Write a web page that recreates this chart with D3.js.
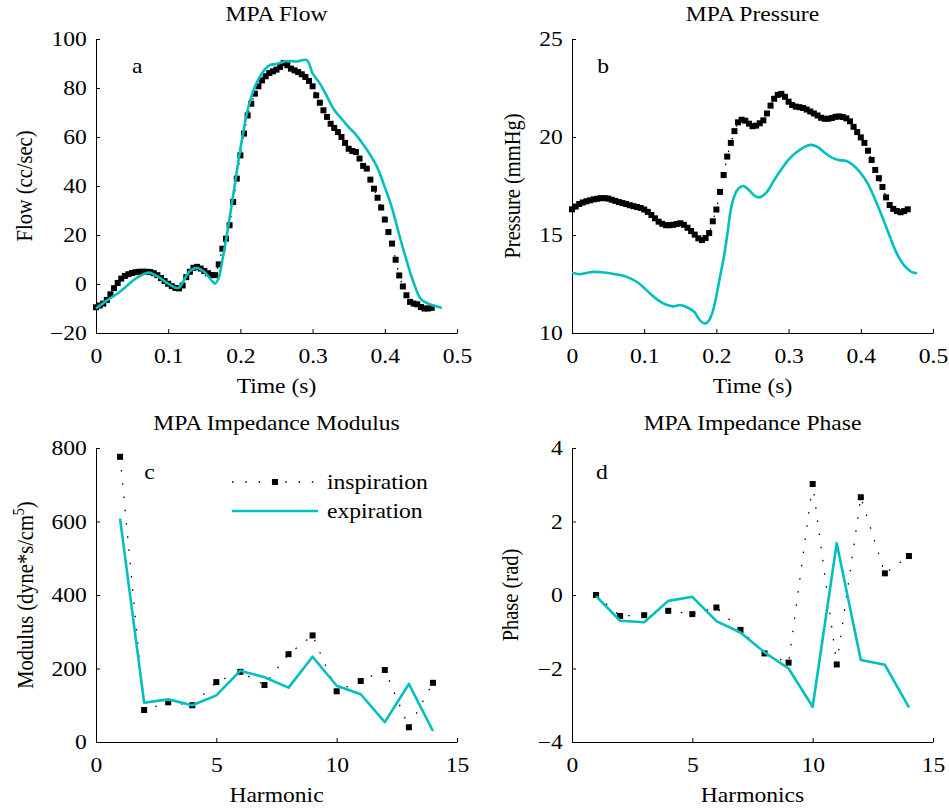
<!DOCTYPE html>
<html>
<head>
<meta charset="utf-8">
<script src="https://cdn.jsdelivr.net/npm/d3@7"></script>
<style>
  body { margin: 0; background: #fff; }
  text { font-family: "Liberation Serif", "Times New Roman", serif; fill: #000; }
  .axis path, .axis line { stroke: #000; stroke-width: 1; }
</style>
</head>
<body>
<svg id="fig" width="949" height="812"></svg>
<script>
// sampling interval of the inspiration waveforms (s)
const dt = 0.005;

// panel a: MPA flow (cc/sec)
const flowInsp = [
  -9.5, -8.8, -8.0, -6.5, -4.2, -1.7, 0.4, 2.2, 3.3, 4.0,
  4.5, 4.8, 5.0, 5.0, 5.0, 4.9, 4.4, 3.6, 2.4, 1.2,
  0.1, -0.9, -1.6, -1.8, -0.6, 2.8, 5.0, 6.6, 7.0, 6.3,
  5.3, 4.4, 3.7, 3.6, 8.0, 14.4, 18.5, 24, 33.5, 43,
  52.5, 61.4, 68.8, 73.6, 77.7, 80.7, 83.1, 84.8, 86.1, 86.8,
  87.5, 88.6, 90.2, 89.3, 87.9, 87.2, 86.5, 85.6, 84.5, 82.9,
  80.7, 77, 74, 70.9, 68.2, 65.4, 63.7, 62, 60, 57.6,
  55.2, 54.3, 53.9, 51.2, 48.2, 47.1, 42.6, 38.9, 35.2, 31.2,
  26.3, 21.2, 16.5, 9.9, 3.5, -1, -4.6, -7.3, -8, -8.3,
  -9.4, -10, -10, -9.7
];
const flowExpT = [0, 0.01, 0.02, 0.03, 0.04, 0.05, 0.06, 0.07, 0.075, 0.08, 0.09, 0.1, 0.11, 0.115, 0.12,
  0.13, 0.14, 0.15, 0.16, 0.165, 0.17, 0.175, 0.18, 0.19, 0.2, 0.21, 0.22, 0.227, 0.235, 0.241, 0.25,
  0.264, 0.278, 0.292, 0.3, 0.31, 0.32, 0.33, 0.34, 0.35, 0.36, 0.37, 0.38, 0.39, 0.4, 0.41, 0.42,
  0.43, 0.44, 0.45, 0.46, 0.47, 0.479];
const flowExp = [-10, -7.8, -5.7, -3.9, -1.5, 1.1, 3.1, 4.5, 4.6, 3.9, 2.2, 0.1, -1.5, -1.5, 0.6,
  5.3, 6.5, 4.9, 1.5, 0.2, 2.5, 9.7, 17.8, 36.2, 55.2, 70.9, 80.4, 84.6, 88.0, 89.4, 89.8,
  91.0, 90.8, 91.4, 86.0, 81.9, 76.5, 71.0, 67.5, 64.0, 61.0, 57.0, 52.6, 47.3, 39.5, 31.0, 20.0,
  9.8, 0.5, -6.2, -8.0, -9.0, -9.8];

// panel b: MPA pressure (mmHg)
const pressInsp = [
  16.31, 16.45, 16.58, 16.66, 16.72, 16.77, 16.82, 16.85, 16.88, 16.88,
  16.86, 16.80, 16.74, 16.68, 16.63, 16.58, 16.52, 16.47, 16.43, 16.38,
  16.30, 16.18, 16.02, 15.85, 15.68, 15.57, 15.50, 15.50, 15.52, 15.56,
  15.60, 15.52, 15.37, 15.20, 15.02, 14.83, 14.74, 14.85, 15.10, 15.70,
  16.30, 17.20, 18.06, 19.00, 19.70, 20.30, 20.75, 20.88, 20.83, 20.68,
  20.55, 20.58, 20.70, 20.85, 21.20, 21.60, 21.95, 22.15, 22.20, 22.05,
  21.80, 21.63, 21.55, 21.52, 21.48, 21.40, 21.30, 21.20, 21.10, 20.98,
  20.93, 20.93, 20.97, 21.03, 21.05, 21.02, 20.95, 20.80, 20.52, 20.25,
  19.98, 19.70, 19.30, 18.83, 18.32, 17.90, 17.45, 16.92, 16.53, 16.33,
  16.22, 16.16, 16.22, 16.31
];
const pressExpT = [0, 0.01, 0.02, 0.03, 0.04, 0.05, 0.06, 0.07, 0.08, 0.09, 0.1, 0.11, 0.12, 0.13, 0.14,
  0.15, 0.16, 0.17, 0.175, 0.18, 0.185, 0.19, 0.195, 0.2, 0.205, 0.21, 0.215, 0.22, 0.225, 0.23, 0.237,
  0.245, 0.253, 0.26, 0.27, 0.28, 0.29, 0.3, 0.31, 0.32, 0.33, 0.34, 0.35, 0.36, 0.37, 0.38, 0.39,
  0.4, 0.41, 0.42, 0.43, 0.44, 0.45, 0.46, 0.47, 0.478];
const pressExp = [13.08, 13.0, 13.06, 13.12, 13.1, 13.06, 13.0, 12.93, 12.8, 12.6, 12.3, 11.95, 11.65, 11.45, 11.36,
  11.43, 11.3, 11.05, 10.75, 10.55, 10.49, 10.65, 11.1, 11.9, 12.87, 13.8, 15.0, 16.3, 17.0, 17.35, 17.5,
  17.3, 17.0, 16.92, 17.2, 17.8, 18.35, 18.85, 19.2, 19.45, 19.6, 19.5, 19.2, 18.95, 18.82, 18.78, 18.55,
  18.15, 17.6, 16.8, 15.9, 14.95, 14.05, 13.45, 13.12, 13.05];

// panels c, d: impedance by harmonic
const harmonics = [1, 2, 3, 4, 5, 6, 7, 8, 9, 10, 11, 12, 13, 14];
const modInsp = [776, 87, 108, 100, 163, 191, 155, 239, 290, 138, 166, 196, 40, 161];
const modExp = [608, 107, 116, 100, 127, 194, 176, 148, 232, 153, 130, 54, 158, 30];
const phaseInsp = [0, -0.57, -0.55, -0.43, -0.52, -0.34, -0.95, -1.59, -1.84, 3.02, -1.89, 2.66, 0.59, 1.06];
const phaseExp = [-0.03, -0.70, -0.74, -0.16, -0.05, -0.71, -1.02, -1.56, -2.0, -3.04, 1.41, -1.77, -1.90, -3.06];

// ticks
const timeTicks = [0, 0.1, 0.2, 0.3, 0.4, 0.5];
const harmTicks = [0, 5, 10, 15];
const flowTicks = [-20, 0, 20, 40, 60, 80, 100];
const pressTicks = [10, 15, 20, 25];
const modTicks = [0, 200, 400, 600, 800];
const phaseTicks = [-4, -2, 0, 2, 4];

const CYAN = "#00bfbf";
const SX = 1.15;      // the figure's text is a little wider than tall
const FS = 20.5;

const svg = d3.select("#fig");
svg.append("rect").attr("width", 949).attr("height", 812).attr("fill", "#fff");

const fmt = d => d < 0 ? "\u2212" + Math.abs(d) : String(d);

function label(g, x, y, s, anchor, rot) {
  return g.append("text")
    .attr("transform", `translate(${x},${y}) scale(${SX},1)` + (rot ? " rotate(-90)" : ""))
    .attr("text-anchor", anchor)
    .attr("font-size", FS)
    .text(s);
}

function panel(p) {
  const g = svg.append("g");
  const x = d3.scaleLinear().domain(p.xd).range([p.left, p.right]);
  const y = d3.scaleLinear().domain(p.yd).range([p.bottom, p.top]);

  const xa = g.append("g").attr("class", "axis")
    .attr("transform", `translate(0,${p.bottom})`)
    .call(d3.axisBottom(x).tickValues(p.xt).tickFormat(fmt).tickSizeInner(-4).tickSizeOuter(0).tickPadding(15));
  const ya = g.append("g").attr("class", "axis")
    .attr("transform", `translate(${p.left},0)`)
    .call(d3.axisLeft(y).tickValues(p.yt).tickFormat(fmt).tickSizeInner(-4).tickSizeOuter(0).tickPadding(8));
  g.selectAll(".axis text")
    .attr("font-family", null)
    .attr("font-size", FS)
    .attr("transform", `scale(${SX},1)`);

  label(g, (p.left + p.right) / 2, p.top - 18, p.title, "middle");
  label(g, (p.left + p.right) / 2, p.bottom + 60, p.xlabel, "middle");
  const yl = label(g, p.ylx, (p.top + p.bottom) / 2, "", "middle", true);
  p.ylabel(yl);
  label(g, x(p.tag[0]), y(p.tag[1]), p.tag[2], "start");

  // inspiration: dotted line with square markers
  const line = d3.line().x(d => x(d[0])).y(d => y(d[1]));
  g.append("path").datum(p.insp)
    .attr("fill", "none").attr("stroke", "#000").attr("stroke-width", 1.3)
    .attr("stroke-dasharray", "1.5,11.8")
    .attr("d", line);
  g.selectAll("rect.mk").data(p.insp).join("rect")
    .attr("class", "mk")
    .attr("x", d => x(d[0]) - 3).attr("y", d => y(d[1]) - 3)
    .attr("width", 6).attr("height", 6).attr("fill", "#000");

  // expiration: cyan solid line
  const eline = d3.line().x(d => x(d[0])).y(d => y(d[1]))
    .curve(p.smooth ? d3.curveCatmullRom.alpha(0.5) : d3.curveLinear);
  g.append("path").datum(p.exp)
    .attr("fill", "none").attr("stroke", CYAN).attr("stroke-width", 2.6)
    .attr("stroke-linejoin", "round")
    .attr("d", eline);
  return g;
}

const zip = (a, b) => a.map((v, i) => [v, b[i]]);
const sampled = vals => vals.map((v, i) => [i * dt, v]);

panel({
  left: 96, right: 457, top: 39, bottom: 333,
  xd: [0, 0.5], yd: [-20, 100], xt: timeTicks, yt: flowTicks,
  title: "MPA Flow", xlabel: "Time (s)", ylx: 32,
  ylabel: t => t.text("Flow (cc/sec)"),
  tag: [0.05, 86, "a"],
  insp: sampled(flowInsp), exp: zip(flowExpT, flowExp), smooth: true
});

panel({
  left: 572, right: 933, top: 39, bottom: 333,
  xd: [0, 0.5], yd: [10, 25], xt: timeTicks, yt: pressTicks,
  title: "MPA Pressure", xlabel: "Time (s)", ylx: 520,
  ylabel: t => t.text("Pressure (mmHg)"),
  tag: [0.035, 23.25, "b"],
  insp: sampled(pressInsp), exp: zip(pressExpT, pressExp), smooth: true
});

const gc = panel({
  left: 96, right: 457, top: 448, bottom: 742,
  xd: [0, 15], yd: [0, 800], xt: harmTicks, yt: modTicks,
  title: "MPA Impedance Modulus", xlabel: "Harmonic", ylx: 33,
  ylabel: t => {
    t.append("tspan").text("Modulus (dyne*s/cm");
    t.append("tspan").attr("dy", -8).attr("font-size", 14).text("5");
    t.append("tspan").attr("dy", 8).text(")");
  },
  tag: [2, 715, "c"],
  insp: zip(harmonics, modInsp), exp: zip(harmonics, modExp), smooth: false
});

panel({
  left: 572, right: 933, top: 448, bottom: 742,
  xd: [0, 15], yd: [-4, 4], xt: harmTicks, yt: phaseTicks,
  title: "MPA Impedance Phase", xlabel: "Harmonics", ylx: 518,
  ylabel: t => t.text("Phase (rad)"),
  tag: [1, 3.15, "d"],
  insp: zip(harmonics, phaseInsp), exp: zip(harmonics, phaseExp), smooth: false
});

// legend in panel c
const lg = gc.append("g");
lg.append("line").attr("x1", 232).attr("x2", 314).attr("y1", 482).attr("y2", 482)
  .attr("stroke", "#000").attr("stroke-width", 1.3).attr("stroke-dasharray", "1.5,11.8");
lg.append("rect").attr("x", 272).attr("y", 479).attr("width", 6).attr("height", 6).attr("fill", "#000");
lg.append("line").attr("x1", 232).attr("x2", 318).attr("y1", 511).attr("y2", 511)
  .attr("stroke", CYAN).attr("stroke-width", 2.6);
label(lg, 327, 489, "inspiration", "start");
label(lg, 327, 518, "expiration", "start");
</script>
</body>
</html>
